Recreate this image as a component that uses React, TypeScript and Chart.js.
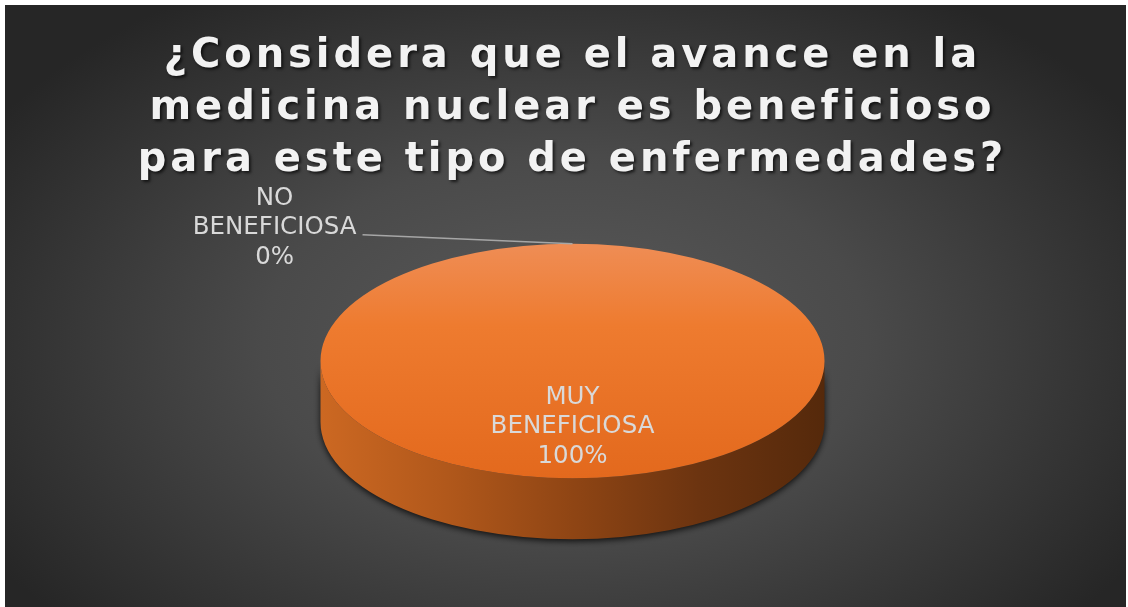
import React, { useEffect, useRef } from 'react';
import { Chart, registerables } from 'chart.js';

Chart.register(...registerables);

// ---- data ----
const TITLE_LINES = [
  '¿Considera que el avance en la',
  'medicina nuclear es beneficioso',
  'para este tipo de enfermedades?',
];
const CATEGORIES = ['NO BENEFICIOSA', 'MUY BENEFICIOSA'];
const CATEGORY_LABEL_LINES = [
  ['NO', 'BENEFICIOSA'],
  ['MUY', 'BENEFICIOSA'],
];
const VALUES = [0, 100];

// ---- style ----
const RADIUS = 252;
const TILT = 117.5 / 252.5; // vertical squash of the top face
const DEPTH = 61; // thickness of the 3D disc
const FONT_FAMILY = '"DejaVu Sans", Verdana, sans-serif';
const LABEL_COLOR = '#d9d9d9';

const pie3d = {
  id: 'pie3d',
  beforeDraw(chart: any) {
    const { ctx, width, height } = chart;
    // dark radial background
    ctx.save();
    const bx = width / 2;
    const by = height * 0.56;
    const sy = 0.62;
    ctx.translate(bx, by);
    ctx.scale(1, sy);
    const g = ctx.createRadialGradient(0, 0, 0, 0, 0, width * 0.6);
    g.addColorStop(0, '#5a5a5a');
    g.addColorStop(0.45, '#4a4a4a');
    g.addColorStop(1, '#262626');
    ctx.fillStyle = g;
    ctx.fillRect(-bx, -by / sy, width, height / sy);
    ctx.restore();
    // styling for the title text
    ctx.letterSpacing = '3.95px';
    ctx.shadowColor = 'rgba(0,0,0,0.65)';
    ctx.shadowBlur = 3;
    ctx.shadowOffsetX = 2;
    ctx.shadowOffsetY = 2;
  },
  beforeDatasetsDraw(chart: any) {
    const { ctx } = chart;
    ctx.letterSpacing = '0px';
    ctx.shadowColor = 'rgba(0,0,0,0)';
    ctx.shadowBlur = 0;
    ctx.shadowOffsetX = 0;
    ctx.shadowOffsetY = 0;
    const meta = chart.getDatasetMeta(0);
    meta.data.forEach((arc: any) => {
      const p = arc.getProps(['x', 'y', 'outerRadius', 'startAngle', 'endAngle', 'circumference'], true);
      if (!(p.circumference > 0)) return;
      const cx = p.x, cy = p.y, r = p.outerRadius, ry = r * TILT;
      for (let k = -1; k <= 1; k++) {
        const lo = Math.max(p.startAngle, 2 * Math.PI * k);
        const hi = Math.min(p.endAngle, 2 * Math.PI * k + Math.PI);
        if (hi <= lo) continue;
        ctx.save();
        const grad = ctx.createLinearGradient(cx - r, 0, cx + r, 0);
        grad.addColorStop(0, '#cc6822');
        grad.addColorStop(0.25, '#b1581b');
        grad.addColorStop(0.5, '#8f4514');
        grad.addColorStop(0.75, '#6c3410');
        grad.addColorStop(1, '#55290b');
        ctx.shadowColor = 'rgba(0,0,0,0.8)';
        ctx.shadowBlur = 6;
        ctx.shadowOffsetY = 2;
        ctx.beginPath();
        ctx.ellipse(cx, cy + DEPTH, r, ry, 0, hi, lo, true);
        ctx.lineTo(cx + r * Math.cos(lo), cy + ry * Math.sin(lo));
        ctx.ellipse(cx, cy, r, ry, 0, lo, hi, false);
        ctx.closePath();
        ctx.fillStyle = grad;
        ctx.fill();
        ctx.restore();
      }
    });
  },
  beforeDatasetDraw(chart: any, args: any) {
    const { ctx } = chart;
    const arc = args.meta.data[0];
    const cx = arc.x, cy = arc.y;
    ctx.save();
    ctx.translate(cx, cy);
    ctx.scale(1, TILT);
    ctx.translate(-cx, -cy);
  },
  afterDatasetDraw(chart: any) {
    chart.ctx.restore();
  },
  afterDatasetsDraw(chart: any) {
    const { ctx } = chart;
    const meta = chart.getDatasetMeta(0);
    const data: number[] = chart.data.datasets[0].data;
    const total = data.reduce((a, b) => a + b, 0);
    const fontSize = 24.5;
    const lineH = 29.5;
    ctx.save();
    ctx.font = `${fontSize}px ${FONT_FAMILY}`;
    ctx.fillStyle = LABEL_COLOR;
    ctx.textBaseline = 'middle';
    meta.data.forEach((arc: any, i: number) => {
      const p = arc.getProps(['x', 'y', 'outerRadius', 'startAngle', 'endAngle'], true);
      const mid = (p.startAngle + p.endAngle) / 2;
      const pct = Math.round((data[i] / total) * 100) + '%';
      const lines = [...CATEGORY_LABEL_LINES[i], pct];
      const ry = p.outerRadius * TILT;
      if (data[i] / total > 0.05) {
        const lx = p.x + 0.56 * p.outerRadius * Math.cos(mid);
        const ly = p.y + 0.56 * ry * Math.sin(mid);
        ctx.textAlign = 'center';
        lines.forEach((t, j) => ctx.fillText(t, lx, ly + (j - 1) * lineH));
      } else {
        const ax = p.x + p.outerRadius * Math.cos(mid);
        const ay = p.y + ry * Math.sin(mid);
        const ex = ax - 210, ey = ay - 9;
        ctx.strokeStyle = '#a6a6a6';
        ctx.lineWidth = 1.5;
        ctx.beginPath();
        ctx.moveTo(ax, ay);
        ctx.lineTo(ex, ey);
        ctx.stroke();
        const w = Math.max(...lines.map((t) => ctx.measureText(t).width));
        const right = ex - 6;
        const centerX = right - w / 2;
        const centerY = ay - 16;
        ctx.textAlign = 'center';
        lines.forEach((t, j) => ctx.fillText(t, centerX, centerY + (j - 1) * lineH));
      }
    });
    ctx.restore();
  },
};

export default function App() {
  const ref = useRef<HTMLCanvasElement | null>(null);

  useEffect(() => {
    if (!ref.current) return;
    const topFace = (c: any) => {
      const area = c.chart.chartArea;
      if (!area) return '#ed7d31';
      const cy = (area.top + area.bottom) / 2;
      const g = c.chart.ctx.createLinearGradient(0, cy - RADIUS, 0, cy + RADIUS);
      g.addColorStop(0, '#ef8d55');
      g.addColorStop(0.35, '#ee7b2f');
      g.addColorStop(1, '#e3691d');
      return g;
    };
    const chart = new Chart(ref.current, {
      type: 'pie',
      data: {
        labels: CATEGORIES,
        datasets: [
          {
            data: VALUES,
            backgroundColor: topFace,
            borderWidth: 0,
            radius: RADIUS,
            clip: false,
          } as any,
        ],
      },
      options: {
        animation: false,
        responsive: true,
        maintainAspectRatio: false,
        events: [],
        layout: { padding: { left: 14, bottom: 72 } },
        plugins: {
          legend: { display: false },
          tooltip: { enabled: false },
          title: {
            display: true,
            text: TITLE_LINES,
            color: '#f2f2f2',
            font: { family: FONT_FAMILY, size: 40, weight: 'bold', lineHeight: 1.3 },
            padding: { top: 26, bottom: 0 },
          },
        },
      } as any,
      plugins: [pie3d],
    });
    return () => chart.destroy();
  }, []);

  return (
    <div
      style={{
        position: 'absolute',
        left: 0,
        top: 0,
        width: 1128,
        height: 607,
        background: '#ffffff',
        boxSizing: 'border-box',
        padding: '5px 2px 0 5px',
      }}
    >
      <div style={{ position: 'relative', width: '100%', height: '100%' }}>
        <canvas ref={ref} />
      </div>
    </div>
  );
}
